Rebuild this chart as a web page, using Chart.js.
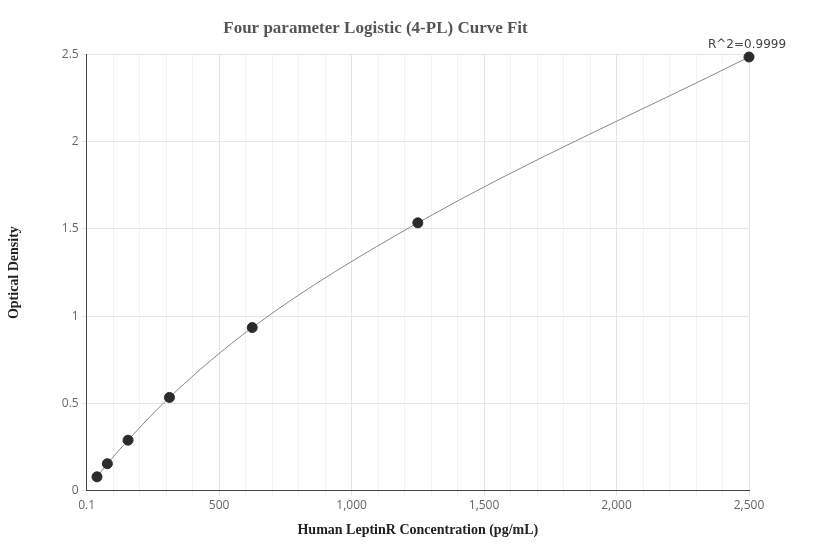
<!DOCTYPE html>
<html><head><meta charset="utf-8">
<script src="https://cdn.jsdelivr.net/npm/chart.js@4"></script>
<style>html,body{margin:0;background:#fff}#w{width:832px;height:560px}</style>
</head><body><div id="w"><canvas id="c"></canvas></div>
<script>
const concentrations = [39.06, 78.13, 156.25, 312.5, 625, 1250, 2500];
const odValues = [0.08, 0.155, 0.29, 0.535, 0.935, 1.535, 2.485];
const xTickValues = [0.1,100,200,300,400,500,600,700,800,900,1000,1100,1200,1300,1400,1500,1600,1700,1800,1900,2000,2100,2200,2300,2400,2500];
const yTickValues = [0, 0.5, 1, 1.5, 2, 2.5];
const r2Label = 'R^2=0.9999';
const pts = concentrations.map((x,i)=>({x, y: odValues[i]}));
const r2Plugin = {id:'r2', afterDraw(ch){
  const c=ch.ctx, xs=ch.scales.x, ys=ch.scales.y;
  c.save(); c.font='12px "DejaVu Sans", sans-serif'; c.fillStyle='#444'; c.textAlign='center';
  c.fillText(r2Label, xs.getPixelForValue(2500)-2, ys.getPixelForValue(2.5)-6); c.restore();
}};
new Chart(document.getElementById('c'), {
  type:'scatter',
  data:{datasets:[
    {data:pts, showLine:true, cubicInterpolationMode:'monotone', borderColor:'#888', borderWidth:1, pointRadius:0, order:2, clip:false},
    {data:pts, pointRadius:5, pointBackgroundColor:'#2b2b2b', pointBorderColor:'#2b2b2b', order:1, clip:false}
  ]},
  options:{responsive:true, maintainAspectRatio:false, animation:false,
    layout:{padding:{left:2,right:83,top:14,bottom:17}},
    plugins:{legend:{display:false}, tooltip:{enabled:false},
      title:{display:true, text:'Four parameter Logistic (4-PL) Curve Fit', color:'#555', font:{family:'"Liberation Serif", serif', size:17, weight:'bold'}, padding:{top:4,bottom:16}}},
    scales:{
      x:{type:'linear', min:0.1, max:2500,
        afterBuildTicks(s){ s.ticks = xTickValues.map(v=>({value:v})); },
        ticks:{autoSkip:false, maxRotation:0, color:'#666', font:{family:'"Open Sans", sans-serif', size:12},
          callback(v){ if(v===0.1) return '0.1'; return v%500===0 ? v.toLocaleString('en-US') : ''; }},
        grid:{color(ctx){ const v=ctx.tick&&ctx.tick.value; return (v%500===0)?'#e4e4e4':'#f2f2f2'; }, tickLength:5},
        border:{color:'#444'},
        title:{display:true, text:'Human LeptinR Concentration (pg/mL)', color:'#222', font:{family:'"Liberation Serif", serif', size:14, weight:'bold'}, padding:{top:6}}},
      y:{min:0, max:2.5,
        afterBuildTicks(s){ s.ticks = yTickValues.map(v=>({value:v})); },
        ticks:{color:'#666', font:{family:'"Open Sans", sans-serif', size:12}, callback:v=>String(v)},
        grid:{color:'#e6e6e6', tickLength:5},
        border:{color:'#444'},
        title:{display:true, text:'Optical Density', color:'#222', font:{family:'"Liberation Serif", serif', size:14, weight:'bold'}, padding:{bottom:36}}}
    }},
  plugins:[r2Plugin]
});
</script></body></html>
